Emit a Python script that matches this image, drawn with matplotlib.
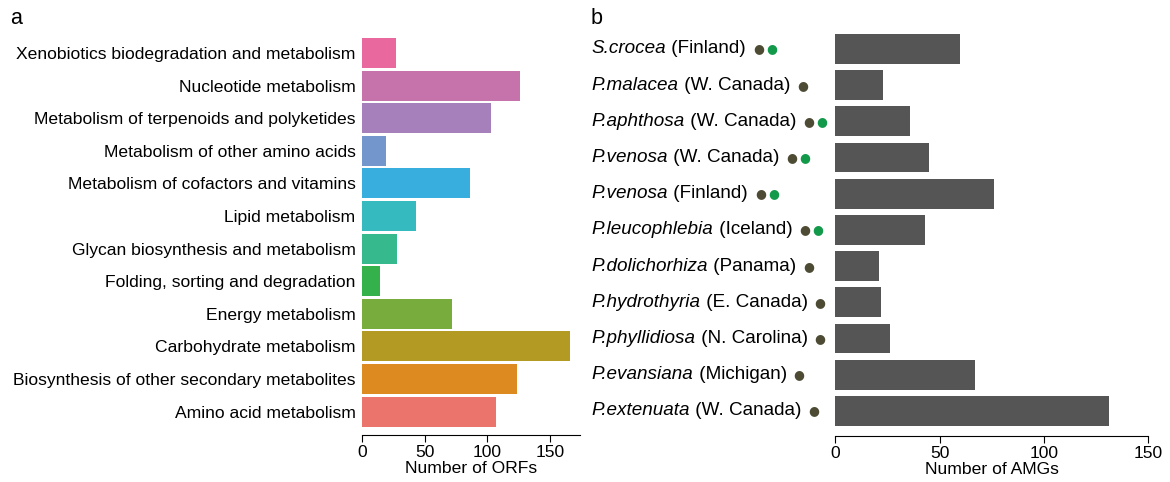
import matplotlib
matplotlib.use("Agg")
import matplotlib.pyplot as plt
from matplotlib.transforms import blended_transform_factory
from matplotlib.offsetbox import TextArea, DrawingArea, HPacker, AnnotationBbox

plt.rcParams["font.family"] = ["Liberation Sans", "DejaVu Sans"]

# panel a: KEGG categories (top to bottom)
pathways = [
    "Xenobiotics biodegradation and metabolism",
    "Nucleotide metabolism",
    "Metabolism of terpenoids and polyketides",
    "Metabolism of other amino acids",
    "Metabolism of cofactors and vitamins",
    "Lipid metabolism",
    "Glycan biosynthesis and metabolism",
    "Folding, sorting and degradation",
    "Energy metabolism",
    "Carbohydrate metabolism",
    "Biosynthesis of other secondary metabolites",
    "Amino acid metabolism",
]
orf_counts = [27, 126, 103, 19, 86, 43, 28, 14, 72, 166, 124, 107]
pathway_colors = [
    "#e9699f", "#c672ab", "#a580ba", "#7396cc", "#38aede", "#35babf",
    "#36b98d", "#35b14b", "#78ad3d", "#b39a22", "#dd8a20", "#eb746c",
]

# panel b: AMGs per metagenome (top to bottom)
species = [
    "S.crocea", "P.malacea", "P.aphthosa", "P.venosa", "P.venosa",
    "P.leucophlebia", "P.dolichorhiza", "P.hydrothyria", "P.phyllidiosa",
    "P.evansiana", "P.extenuata",
]
locations = [
    "Finland", "W. Canada", "W. Canada", "W. Canada", "Finland", "Iceland",
    "Panama", "E. Canada", "N. Carolina", "Michigan", "W. Canada",
]
amg_counts = [60, 23, 36, 45, 76, 43, 21, 22, 26, 67, 131]
has_green = [True, False, True, True, True, True, False, False, False, False, False]

olive = "#4d4b33"
green = "#12994a"
fs = 12.6
fs_b = 13.6

fig = plt.figure(figsize=(11.7, 4.82), dpi=100)
ax1 = fig.add_axes([0.3097, 0.112, 0.1863, 0.812])
ax2 = fig.add_axes([0.7139, 0.110, 0.2675, 0.826])

# ---- panel a
ypos = list(range(len(pathways)))
ax1.barh(ypos, orf_counts, height=0.92, color=pathway_colors)
ax1.set_yticks(ypos)
ax1.set_yticklabels(pathways, fontsize=fs)
ax1.set_ylim(len(pathways) - 0.5, -0.5)
ax1.tick_params(axis="y", length=0, pad=5)
ax1.tick_params(axis="x", labelsize=fs, length=5, pad=2)
ax1.set_xticks([0, 50, 100, 150])
ax1.set_xlabel("Number of ORFs", fontsize=fs, labelpad=1)
for side in ["top", "right", "left"]:
    ax1.spines[side].set_visible(False)
ax1.spines["bottom"].set_position(("outward", 5))

# ---- panel b
ypos2 = list(range(len(species)))
ax2.barh(ypos2, amg_counts, height=0.82, color="#565555")
ax2.set_ylim(len(species) - 0.5, -0.5)
ax2.set_xlim(0, 150)
ax2.set_yticks([])
ax2.set_xticks([0, 50, 100, 150])
ax2.tick_params(axis="x", labelsize=fs, length=5, pad=2)
ax2.set_xlabel("Number of AMGs", fontsize=fs, labelpad=1)
for side in ["top", "right", "left"]:
    ax2.spines[side].set_visible(False)
ax2.spines["bottom"].set_position(("outward", 5))

trans = blended_transform_factory(ax2.transAxes, ax2.transData)
for i, (sp, loc) in enumerate(zip(species, locations)):
    parts = [
        TextArea(sp, textprops=dict(fontsize=fs_b, style="italic")),
        TextArea(" (" + loc + ")", textprops=dict(fontsize=fs_b)),
        DrawingArea(5, 1),
        TextArea("\u25cf", textprops=dict(fontsize=9, color=olive, family="DejaVu Sans")),
    ]
    if has_green[i]:
        parts += [
            DrawingArea(1.5, 1),
            TextArea("\u25cf", textprops=dict(fontsize=9, color=green, family="DejaVu Sans")),
        ]
    row = HPacker(children=parts, align="center", pad=0, sep=0)
    ab = AnnotationBbox(row, (-0.778, i), xycoords=trans, box_alignment=(0, 0.5),
                        frameon=False, pad=0, annotation_clip=False)
    ax2.add_artist(ab)

fig.text(0.009, 0.962, "a", fontsize=15.5, va="center")
fig.text(0.505, 0.962, "b", fontsize=15.5, va="center")

fig.savefig("out.png", dpi=100)
